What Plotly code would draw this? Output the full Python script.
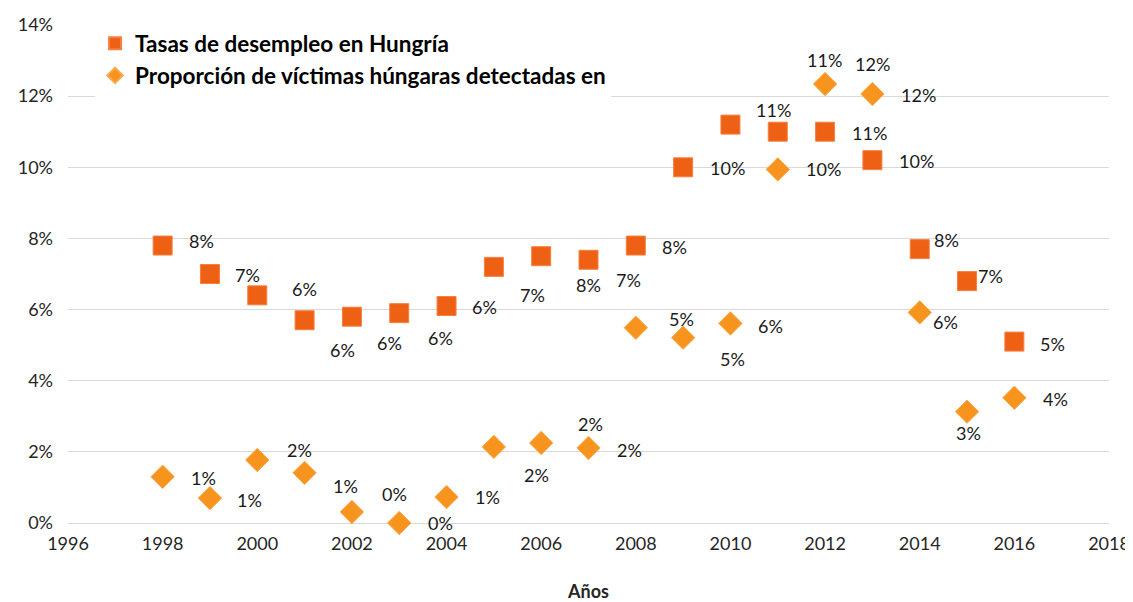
import plotly.graph_objects as go

# años
years = list(range(1998, 2017))

# tasas de desempleo en Hungría (%)
desempleo = [7.8, 7.0, 6.4, 5.7, 5.8, 5.9, 6.1, 7.2, 7.5, 7.4, 7.8,
             10.0, 11.2, 11.0, 11.0, 10.2, 7.7, 6.8, 5.1]

# proporción de víctimas húngaras detectadas (%)
victimas = [1.30, 0.70, 1.77, 1.41, 0.31, 0.0, 0.73, 2.14, 2.25, 2.11, 5.49,
            5.21, 5.61, 9.94, 12.34, 12.06, 5.92, 3.13, 3.52]

# desplazamiento de las etiquetas (px): (dx, dy hacia arriba)
off_desempleo = [(39, 5), (38, -1), (47, 6), (38, -30), (38, -26), (41, -25),
                 (38, -1), (39, -28), (47, -29), (40, -20), (39, -1), (44, -1),
                 (43, 15), (47, 72), (44, -1), (44, -1), (27, 9), (23, 5), (38, -2)]
off_victimas = [(41, -1), (40, -2), (42, 10), (41, -13), (43, 18), (41, 0),
                (41, 0), (43, -28), (49, 19), (41, -2), (46, 9), (49, -21),
                (40, -3), (46, 0), (47, 20), (46, -1), (26, -10), (1, -21), (41, -1)]

FONT = "Lato"
C_SQ = "#EE6014"
C_DI = "#F7941E"

fig = go.Figure()
fig.add_trace(go.Scatter(x=years, y=desempleo, mode="markers", cliponaxis=False,
                         name="Tasas de desempleo en Hungría",
                         marker=dict(symbol="square", size=19, color=C_SQ,
                                     line=dict(color="#F58040", width=1))))
fig.add_trace(go.Scatter(x=years, y=victimas, mode="markers", cliponaxis=False,
                         name="Proporción de víctimas húngaras detectadas en",
                         marker=dict(symbol="diamond", size=18, color=C_DI,
                                     line=dict(color="#FAAA50", width=1))))

for xs, ys, offs in [(years, desempleo, off_desempleo), (years, victimas, off_victimas)]:
    for x, y, (dx, dy) in zip(xs, ys, offs):
        fig.add_annotation(x=x, y=y, text=str(int(y + 0.5)) + "%", showarrow=False,
                           xshift=dx, yshift=dy,
                           font=dict(family=FONT, size=18, color="#1a1a1a"))

# the page adds an 8px body margin, so the figure is 8px smaller than the window
fig.update_layout(
    width=1125, height=594,
    paper_bgcolor="white", plot_bgcolor="white",
    font=dict(family=FONT, size=18, color="#262626"),
    margin=dict(l=60, r=24, t=17, b=79),
    showlegend=True,
    legend=dict(x=0.026, y=1.006, xanchor="left", yanchor="top",
                bgcolor="white", itemsizing="constant",
                font=dict(family=FONT, size=22.5, color="black", weight="bold")),
)
fig.update_xaxes(range=[1996, 2018], dtick=2, tick0=1996, showgrid=False,
                 zeroline=False, showline=False, ticks="", ticklabelstandoff=8,
                 automargin=False, ticklabeloverflow="allow",
                 title_text="<b>Años</b>", title_font=dict(size=18, color="#262626"),
                 title_standoff=37)
fig.update_yaxes(range=[0, 14], dtick=2, ticksuffix="%", showgrid=True,
                 gridcolor="#D9D9D9", gridwidth=1, zeroline=True,
                 zerolinecolor="#D9D9D9", zerolinewidth=1, showline=False,
                 ticks="", ticklabelstandoff=14, automargin=False,
                 ticklabeloverflow="allow")

fig.write_html("out.html")
